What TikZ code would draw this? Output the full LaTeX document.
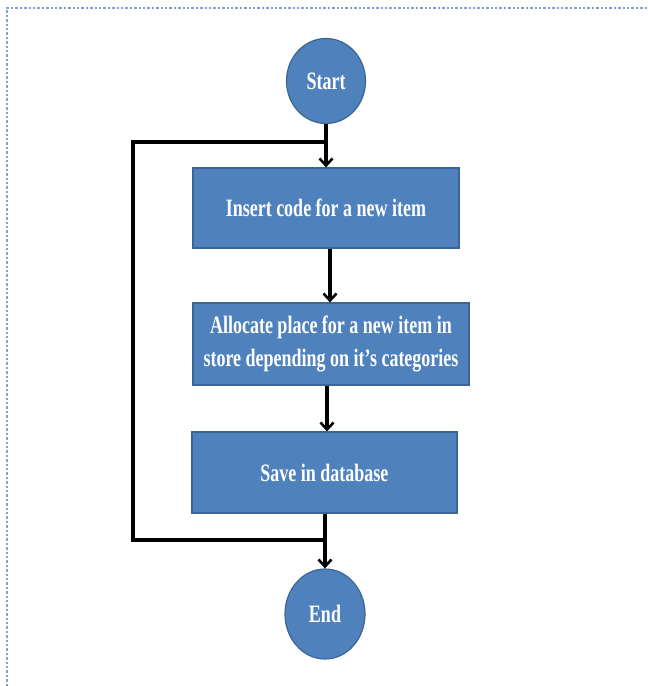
\documentclass[tikz,border=0pt]{standalone}
\usepackage{fontspec}
\setmainfont{Liberation Serif}
\newfontfamily\boxfont{Liberation Serif}[FakeStretch=0.72]
\usetikzlibrary{arrows.meta,shapes.geometric}
\definecolor{boxblue}{HTML}{4F81BD}
\definecolor{boxedge}{HTML}{3A6596}
\definecolor{frameblue}{HTML}{7FA3D6}
\begin{document}
\begin{tikzpicture}[x=1pt,y=1pt,
  flowbox/.style={draw=boxedge,line width=1.2pt,fill=boxblue,text=white,
    font=\boxfont\bfseries\fontsize{25}{33}\selectfont,align=center,inner sep=0pt},
  term/.style={ellipse,draw=boxedge,line width=1.2pt,fill=boxblue,text=white,
    font=\boxfont\bfseries\fontsize{25}{29}\selectfont,inner sep=0pt},
  conn/.style={line width=3.4pt,black},
  arr/.style={conn,-{Straight Barb[length=7pt,width=13pt,line width=2.6pt]}}]
\useasboundingbox (0,0) rectangle (648,-686);
\draw[frameblue,line width=2.4pt,dotted] (7,-686) -- (7,-8) -- (648,-8);
\node[term,minimum width=79pt,minimum height=85pt] (start) at (326,-81) {Start};
\node[flowbox,minimum width=266pt,minimum height=80pt] (b1) at (326,-208) {Insert code for a new item};
\node[flowbox,minimum width=276pt,minimum height=82pt] (b2) at (331,-344) {Allocate place for a new item in\\store depending on it’s categories};
\node[flowbox,minimum width=265pt,minimum height=81pt] (b3) at (324.5,-472.5) {Save in database};
\node[term,minimum width=80pt,minimum height=90pt] (end) at (325,-614) {End};
\coordinate (ltop) at (133,-142);
\coordinate (lbot) at (133,-540);
\draw[arr] (start.south) -- (start.south |- b1.north);
\draw[arr] ([xshift=4pt]b1.south) -- ([xshift=4pt]b1.south |- b2.north);
\draw[arr] ([xshift=-4pt]b2.south) -- ([xshift=-4pt]b2.south |- b3.north);
\draw[arr] ([xshift=0.5pt]b3.south) -- ([xshift=0.5pt]b3.south |- end.north);
\draw[conn] (start.south |- ltop) -- (ltop) -- (lbot) -- ([xshift=0.5pt]b3.south |- lbot);
\end{tikzpicture}
\end{document}
